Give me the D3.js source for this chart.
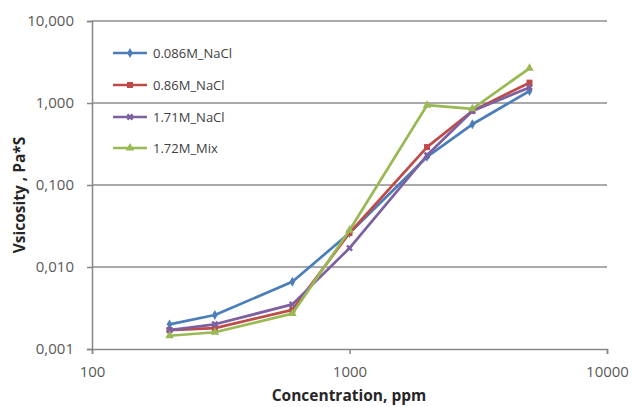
<!DOCTYPE html>
<meta charset="utf-8">
<style>
body { margin: 0; background: #fff; }
text { font-family: "Open Sans", Lato, sans-serif; }
.tick text { fill: #595959; }
.title { font-weight: bold; font-size: 15.5px; fill: #262626; }
.legend text { font-size: 13px; fill: #404040; }
</style>
<body>
<script src="https://cdn.jsdelivr.net/npm/d3@7"></script>
<script>

var concentrations = [200, 300, 600, 1000, 2000, 3000, 5000];

var seriesNames = ["0.086M_NaCl", "0.86M_NaCl", "1.71M_NaCl", "1.72M_Mix"];
var seriesColors = ["#4a7ebb", "#be4b48", "#7d60a0", "#98b954"];

var blue = [0.0020, 0.0026, 0.0066, 0.026, 0.22, 0.55, 1.40];
var red = [0.0017, 0.0018, 0.0030, 0.026, 0.29, 0.80, 1.77];
var purple = [0.0017, 0.0020, 0.0035, 0.017, 0.23, 0.80, 1.55];
var green = [0.00145, 0.0016, 0.0027, 0.028, 0.94, 0.85, 2.65];

var xTicks = [100, 1000, 10000];
var yTicks = [0.001, 0.01, 0.1, 1, 10];
var yTickLabels = ["0,001", "0,010", "0,100", "1,000", "10,000"];

var allSeries = [blue, red, purple, green];

var width = 633,
    height = 407;

var margin = {left: 92, right: 26, top: 21, bottom: 58};

var x = d3.scaleLog()
    .domain([100, 10000])
    .range([margin.left, width - margin.right]);

var y = d3.scaleLog()
    .domain([0.001, 10])
    .range([height - margin.bottom, margin.top]);

var svg = d3.select("body").append("svg")
    .attr("width", width)
    .attr("height", height);

// horizontal gridlines
svg.append("g").selectAll("line")
    .data(yTicks.slice(1))
  .enter().append("line")
    .attr("x1", margin.left)
    .attr("x2", width - margin.right)
    .attr("y1", function(d) { return y(d); })
    .attr("y2", function(d) { return y(d); })
    .attr("stroke", "#8c8c8c")
    .attr("stroke-width", 1.5);

var xAxis = svg.append("g")
    .attr("transform", "translate(0," + (height - margin.bottom) + ")")
    .call(d3.axisBottom(x).tickValues(xTicks).tickFormat(d3.format("d")).tickSize(5).tickPadding(12));

var yAxis = svg.append("g")
    .attr("transform", "translate(" + margin.left + ",0)")
    .call(d3.axisLeft(y).tickValues(yTicks)
      .tickFormat(function(d, i) { return yTickLabels[i]; })
      .tickSize(5).tickPadding(13));

[xAxis, yAxis].forEach(function(a) {
  a.select(".domain").attr("stroke", "#868686").attr("stroke-width", 1.5);
  a.selectAll(".tick line").attr("stroke", "#868686").attr("stroke-width", 1.5);
  a.selectAll(".tick text").style("font-size", "15px").style("font-family", "'Open Sans', sans-serif");
});

svg.append("text")
    .attr("class", "title")
    .attr("x", 349)
    .attr("y", 401)
    .attr("text-anchor", "middle")
    .text("Concentration, ppm");

svg.append("text")
    .attr("class", "title")
    .attr("transform", "translate(25,195) rotate(-90)")
    .attr("text-anchor", "middle")
    .text("Vsicosity , Pa*S");

var line = d3.line()
    .x(function(d, i) { return x(concentrations[i]); })
    .y(function(d) { return y(d); });

var symbols = [d3.symbolDiamond, d3.symbolSquare, d3.symbolCross, d3.symbolTriangle];
var symbolSizes = [28, 36, 30, 32];

function marker(sel, i) {
  var s = sel.append("path")
      .attr("d", d3.symbol().type(symbols[i]).size(symbolSizes[i]))
      .attr("fill", seriesColors[i]);
  if (i === 2) s.attr("transform", "rotate(45)");
  return s;
}

allSeries.forEach(function(vals, i) {
  svg.append("path")
      .datum(vals)
      .attr("fill", "none")
      .attr("stroke", seriesColors[i])
      .attr("stroke-width", 2.7)
      .attr("stroke-linejoin", "round")
      .attr("d", line);

  vals.forEach(function(v, j) {
    var g = svg.append("g")
        .attr("transform", "translate(" + x(concentrations[j]) + "," + y(v) + ")");
    marker(g, i);
  });
});

// legend
var legend = svg.append("g").attr("class", "legend");
var legendY = [53, 85, 117, 148];
seriesNames.forEach(function(name, i) {
  var g = legend.append("g").attr("transform", "translate(113," + legendY[i] + ")");
  g.append("line")
      .attr("x1", 0).attr("x2", 34)
      .attr("stroke", seriesColors[i])
      .attr("stroke-width", 2.5);
  var m = g.append("g").attr("transform", "translate(17,0)");
  marker(m, i);
  g.append("text")
      .attr("x", 40)
      .attr("dy", "0.35em")
      .text(name);
});

</script>
